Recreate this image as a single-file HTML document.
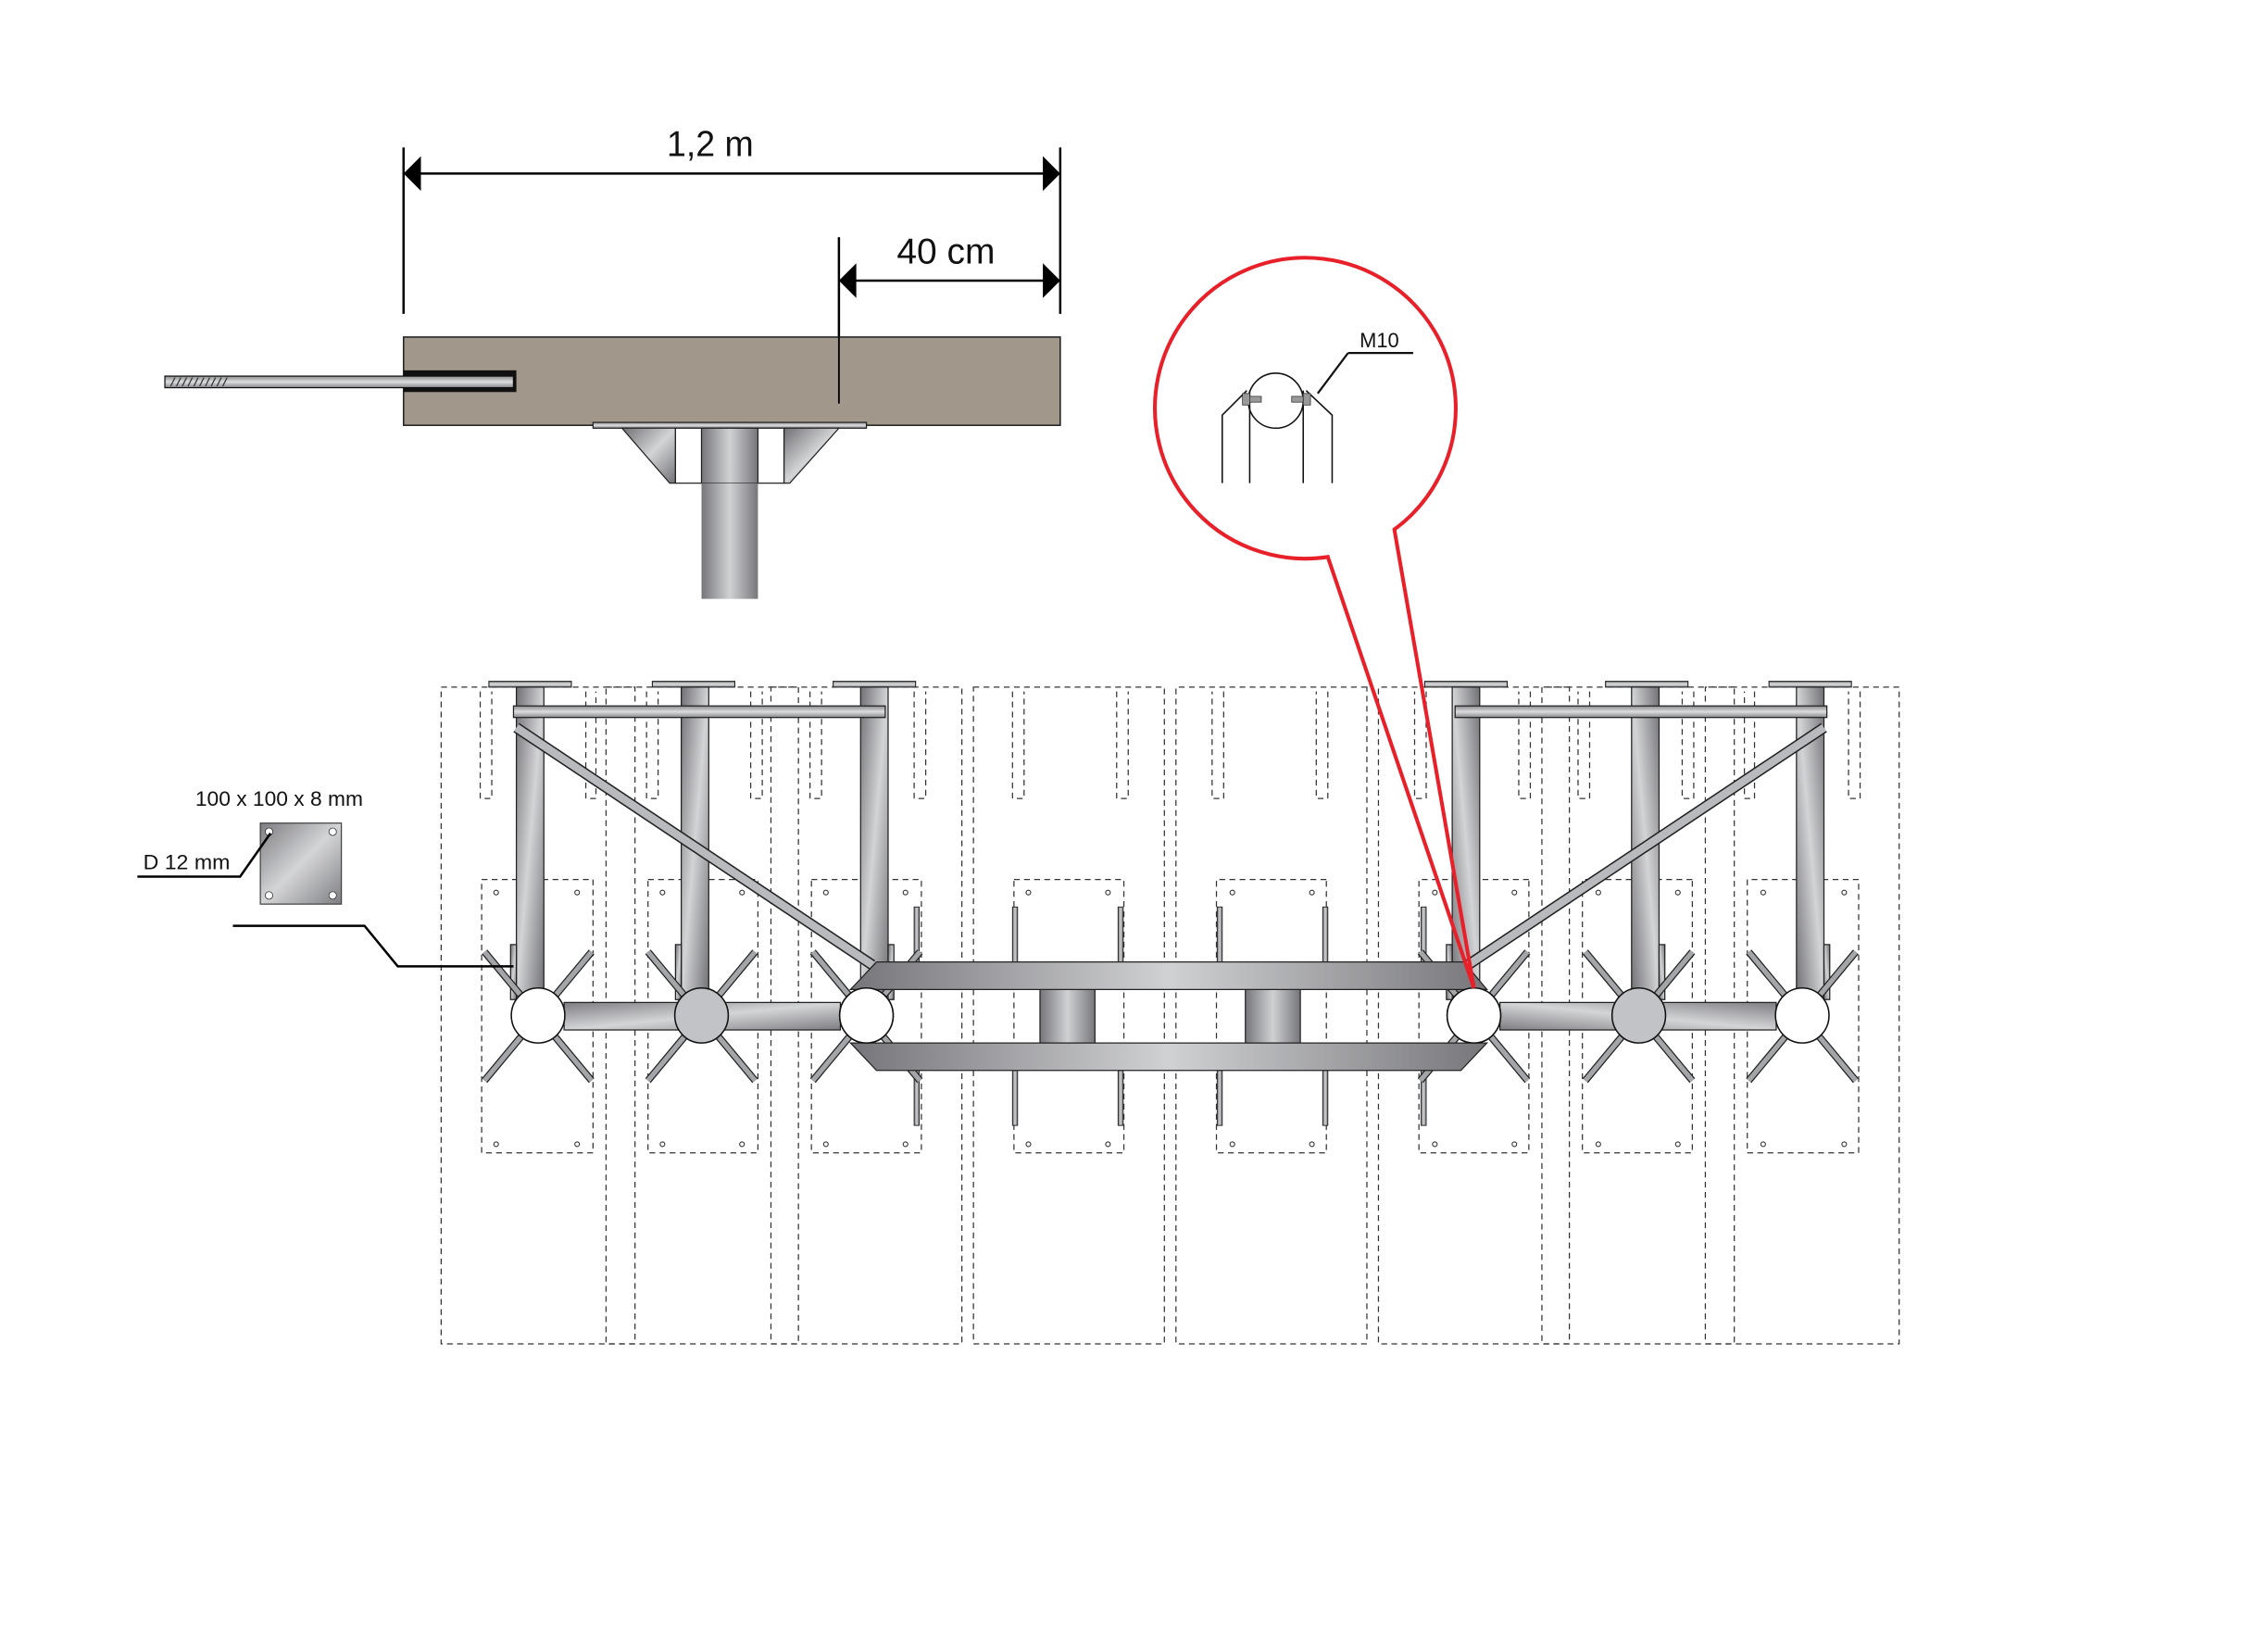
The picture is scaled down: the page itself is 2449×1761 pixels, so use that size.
<!DOCTYPE html>
<html><head><meta charset="utf-8"><style>
html,body{margin:0;padding:0;background:#fff;}
svg{display:block;}
text{font-family:"Liberation Sans",sans-serif;fill:#111;}
</style></head><body>
<svg width="2449" height="1761" viewBox="0 0 1568 1127.5" preserveAspectRatio="none" xmlns="http://www.w3.org/2000/svg">
<defs>
<linearGradient id="mv" x1="0" y1="0" x2="1" y2="1"><stop offset="0" stop-color="#717175"/><stop offset="0.5" stop-color="#d3d4d6"/><stop offset="1" stop-color="#727276"/></linearGradient>
<linearGradient id="mh" x1="0" y1="0" x2="1" y2="0"><stop offset="0" stop-color="#76767a"/><stop offset="0.5" stop-color="#d0d1d3"/><stop offset="1" stop-color="#77777b"/></linearGradient>
<linearGradient id="mt" x1="0" y1="0" x2="0" y2="1"><stop offset="0" stop-color="#8a8a8e"/><stop offset="0.5" stop-color="#dcdddf"/><stop offset="1" stop-color="#88888c"/></linearGradient>
<linearGradient id="mp" x1="0" y1="0" x2="1" y2="1"><stop offset="0" stop-color="#7e7e82"/><stop offset="0.5" stop-color="#d4d5d7"/><stop offset="1" stop-color="#7e7e82"/></linearGradient>
<g id="half">
  <g fill="none" stroke="#333" stroke-width="0.8" stroke-dasharray="4 3">
    <rect x="305" y="475" width="134" height="454"/>
    <rect x="419" y="475" width="133" height="454"/>
    <rect x="533" y="475" width="132" height="454"/>
    <rect x="673" y="475" width="132" height="454"/>
    <rect x="333" y="608" width="77" height="189"/>
    <rect x="448" y="608" width="76" height="189"/>
    <rect x="561" y="608" width="76" height="189"/>
    <rect x="701" y="608" width="76" height="189"/>
    <path d="M332 478V552H340V478 M405 478V552H412V478"/>
    <path d="M447 478V552H455V478 M519 478V552H527V478"/>
    <path d="M560 478V552H568V478 M632 478V552H640V478"/>
    <path d="M700 478V552H708V478 M772 478V552H780V478"/>
  </g>
  <g fill="none" stroke="#333" stroke-width="0.7">
    <circle cx="343" cy="617" r="1.6"/><circle cx="399" cy="617" r="1.6"/><circle cx="343" cy="791" r="1.6"/><circle cx="399" cy="791" r="1.6"/>
    <circle cx="458" cy="617" r="1.6"/><circle cx="513" cy="617" r="1.6"/><circle cx="458" cy="791" r="1.6"/><circle cx="513" cy="791" r="1.6"/>
    <circle cx="571" cy="617" r="1.6"/><circle cx="626" cy="617" r="1.6"/><circle cx="571" cy="791" r="1.6"/><circle cx="626" cy="791" r="1.6"/>
    <circle cx="711" cy="617" r="1.6"/><circle cx="766" cy="617" r="1.6"/><circle cx="711" cy="791" r="1.6"/><circle cx="766" cy="791" r="1.6"/>
  </g>
  <g fill="url(#mh)" stroke="#222" stroke-width="0.6">
    <rect x="632" y="627" width="3.5" height="38"/><rect x="700" y="627" width="3.5" height="38"/><rect x="773" y="627" width="3.5" height="38"/>
    <rect x="632" y="740" width="3.5" height="38"/><rect x="700" y="740" width="3.5" height="38"/><rect x="773" y="740" width="3.5" height="38"/>
  </g>
  <g fill="url(#mt)" stroke="#222" stroke-width="0.7">
    <rect x="338" y="471" width="57" height="4"/>
    <rect x="451" y="471" width="57" height="4"/>
    <rect x="576" y="471" width="57" height="4"/>
  </g>
  <g fill="url(#mv)" stroke="#222" stroke-width="0.8">
    <rect x="357" y="475" width="19" height="212"/>
    <rect x="471" y="475" width="19" height="212"/>
    <rect x="595" y="475" width="19" height="212"/>
    <rect x="353" y="653" width="4" height="38"/>
    <rect x="467" y="653" width="4" height="38"/>
    <rect x="614" y="653" width="4" height="38"/>
  </g>
  <rect x="355" y="488" width="257" height="8" fill="url(#mt)" stroke="#222" stroke-width="0.8"/>
  <line x1="357" y1="503" x2="603" y2="667" stroke="#222" stroke-width="7.5"/>
  <line x1="357" y1="503" x2="603" y2="667" stroke="#b9babd" stroke-width="5.5"/>
  <g stroke-width="5" stroke-linecap="butt">
    <g id="sp"><path d="M335 658L409 747M409 658L335 747" stroke="#222"/><path d="M335 658L409 747M409 658L335 747" stroke="#a4a5a8" stroke-width="3.4"/></g>
    <use href="#sp" transform="translate(113,0)"/>
    <use href="#sp" transform="translate(227,0)"/>
  </g>
  <rect x="390" y="693" width="191" height="19" fill="url(#mp)" stroke="#222" stroke-width="0.8"/>
  <g fill="#fff" stroke="#111" stroke-width="1">
    <ellipse cx="372" cy="702" rx="18.5" ry="19"/>
    <ellipse cx="485" cy="702" rx="18.5" ry="19" fill="#c2c3c6"/>
    <ellipse cx="599" cy="702" rx="18.5" ry="19"/>
  </g>
  <rect x="719" y="684" width="38" height="37" fill="url(#mh)" stroke="#222" stroke-width="0.8"/>
</g>
</defs>

<g stroke="#000" stroke-width="1.6" fill="none">
  <line x1="279" y1="102" x2="279" y2="217"/>
  <line x1="733" y1="102" x2="733" y2="217"/>
  <line x1="290" y1="120" x2="722" y2="120"/>
  <line x1="580" y1="164" x2="580" y2="279"/>
  <line x1="590" y1="194" x2="722" y2="194"/>
</g>
<g fill="#000">
  <polygon points="279,120 291,108 291,132"/>
  <polygon points="733,120 721,108 721,132"/>
  <polygon points="580,194 592,182 592,206"/>
  <polygon points="733,194 721,182 721,206"/>
</g>
<text x="491" y="108" font-size="25" text-anchor="middle" textLength="60" lengthAdjust="spacingAndGlyphs">1,2 m</text>
<text x="654" y="182" font-size="25" text-anchor="middle" textLength="68" lengthAdjust="spacingAndGlyphs">40 cm</text>

<rect x="279" y="233" width="454" height="61" fill="#a1978a" stroke="#222" stroke-width="1"/>
<rect x="279" y="256" width="78" height="15" fill="#111"/>
<rect x="114" y="260" width="241" height="8" fill="url(#mt)" stroke="#111" stroke-width="0.8"/>
<g stroke="#333" stroke-width="0.8">
  <path d="M118 267l3-6M122 267l3-6M126 267l3-6M130 267l3-6M134 267l3-6M138 267l3-6M142 267l3-6M146 267l3-6M150 267l3-6M154 267l3-6"/>
</g>
<line x1="580" y1="233" x2="580" y2="279" stroke="#000" stroke-width="1.2"/>
<rect x="410" y="292" width="189" height="4" fill="url(#mt)" stroke="#222" stroke-width="0.8"/>
<polygon points="430,296 467,296 467,334 463,334" fill="url(#mv)" stroke="#222" stroke-width="0.8"/>
<polygon points="542,296 580,296 546,334 542,334" fill="url(#mv)" stroke="#222" stroke-width="0.8"/>
<rect x="467" y="296" width="75" height="38" fill="#fff" stroke="#222" stroke-width="0.8"/>
<rect x="485" y="296" width="39" height="38" fill="url(#mh)" stroke="#222" stroke-width="0.8"/>
<rect x="485" y="334" width="39" height="80" fill="url(#mh)"/>

<use href="#half"/>
<use href="#half" transform="translate(1618,0) scale(-1,1)"/>
<polygon points="606,665 1012,665 1028,684 588,684" fill="url(#mh)" stroke="#222" stroke-width="0.8"/>
<polygon points="588,721 1028,721 1010,740 606,740" fill="url(#mh)" stroke="#222" stroke-width="0.8"/>
<ellipse cx="599" cy="702" rx="18.5" ry="19" fill="#fff" stroke="#111" stroke-width="1"/>
<ellipse cx="1019" cy="702" rx="18.5" ry="19" fill="#fff" stroke="#111" stroke-width="1"/>

<text x="193" y="557" font-size="14.5" text-anchor="middle" textLength="116" lengthAdjust="spacingAndGlyphs">100 x 100 x 8 mm</text>
<rect x="180" y="569" width="56" height="56" fill="url(#mp)" stroke="#444" stroke-width="0.8"/>
<g fill="#fff" stroke="#333" stroke-width="0.5">
  <circle cx="186" cy="575" r="2.6"/><circle cx="230" cy="575" r="2.6"/><circle cx="186" cy="619" r="2.6"/><circle cx="230" cy="619" r="2.6"/>
</g>
<text x="99" y="601" font-size="14.5" textLength="60" lengthAdjust="spacingAndGlyphs">D 12 mm</text>
<polyline points="95,606 166,606 187,576" fill="none" stroke="#000" stroke-width="1.6"/>
<polyline points="161,640 252,640 275,668 355,668" fill="none" stroke="#000" stroke-width="1.6"/>

<path d="M918 385 A104 104 0 1 1 964 366 L1019 683 Z" fill="none" stroke="#e8202a" stroke-width="2.6" stroke-linejoin="miter"/>
<g fill="none" stroke="#111" stroke-width="1">
  <circle cx="882" cy="277" r="19"/>
  <polyline points="845,334 845,287 862,270"/>
  <polyline points="921,334 921,287 903,270"/>
  <line x1="864" y1="270" x2="864" y2="334"/>
  <line x1="901" y1="270" x2="901" y2="334"/>
  <polyline points="932,244 977,244" stroke-width="1.4"/>
  <line x1="932" y1="244" x2="911" y2="272" stroke-width="1.4"/>
</g>
<g fill="#999" stroke="#333" stroke-width="0.5">
  <rect x="859" y="272" width="5" height="8"/><rect x="864" y="274" width="8" height="4"/>
  <rect x="901" y="272" width="5" height="8"/><rect x="893" y="274" width="8" height="4"/>
</g>
<text x="940" y="240" font-size="14">M10</text>
</svg>
</body></html>
